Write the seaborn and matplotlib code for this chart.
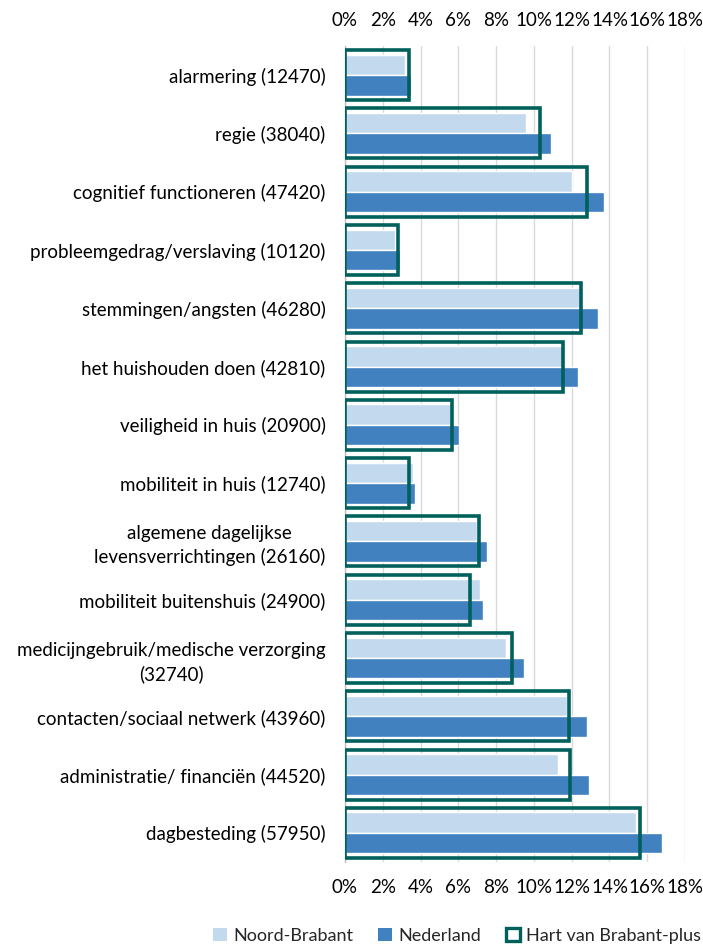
import matplotlib
matplotlib.use("Agg")
import matplotlib.pyplot as plt
import seaborn as sns
import pandas as pd
from matplotlib.patches import Patch
from matplotlib.ticker import FuncFormatter

categories = [
    "alarmering (12470)",
    "regie (38040)",
    "cognitief functioneren (47420)",
    "probleemgedrag/verslaving (10120)",
    "stemmingen/angsten (46280)",
    "het huishouden doen (42810)",
    "veiligheid in huis (20900)",
    "mobiliteit in huis (12740)",
    "algemene dagelijkse\nlevensverrichtingen (26160)",
    "mobiliteit buitenshuis (24900)",
    "medicijngebruik/medische verzorging\n(32740)",
    "contacten/sociaal netwerk (43960)",
    "administratie/ financiën (44520)",
    "dagbesteding (57950)",
]
noord_brabant = [3.2, 9.6, 12.0, 2.65, 12.45, 11.5, 5.6, 3.6, 7.0, 7.15, 8.5, 11.75, 11.3, 15.4]
nederland = [3.5, 10.9, 13.7, 2.9, 13.4, 12.35, 6.05, 3.7, 7.5, 7.3, 9.45, 12.8, 12.9, 16.8]
hart_van_brabant = [3.4, 10.3, 12.8, 2.8, 12.5, 11.55, 5.65, 3.4, 7.07, 6.6, 8.85, 11.85, 11.9, 15.6]
series_names = ["Noord-Brabant", "Nederland", "Hart van Brabant-plus"]
x_ticks = list(range(0, 19, 2))

c_nb = "#C3D9EE"
c_nl = "#4181BF"
c_hvb = "#00605C"

sns.set_theme(style="white")
plt.rcParams["font.family"] = ["Lato", "DejaVu Sans"]

df = pd.DataFrame({
    "cat": categories * 2,
    "val": noord_brabant + nederland,
    "serie": [series_names[0]] * len(categories) + [series_names[1]] * len(categories),
})
df_h = pd.DataFrame({"cat": categories, "val": hart_van_brabant})

fig = plt.figure(figsize=(7.03, 9.46), dpi=100)
ax = fig.add_axes([345 / 703, 1 - 862 / 946, (685 - 345) / 703, (862 - 46) / 946])

sns.barplot(data=df, x="val", y="cat", hue="serie", order=categories,
            hue_order=series_names[:2], palette=[c_nb, c_nl], width=0.7,
            saturation=1, orient="h", errorbar=None, edgecolor="white",
            linewidth=1, legend=False, ax=ax, zorder=2)
sns.barplot(data=df_h, x="val", y="cat", order=categories, width=0.86,
            orient="h", errorbar=None, fill=False, color=c_hvb, saturation=1,
            linewidth=2.6, ax=ax, zorder=3)
for p in ax.patches[-len(categories):]:
    p.set_edgecolor(c_hvb)
    p.set_facecolor("none")

ax.set_xlim(0, 18)
ax.set_ylim(len(categories) - 0.5, -0.5)
ax.set_xticks(x_ticks)
ax.xaxis.set_major_formatter(FuncFormatter(lambda v, _: f"{v:.0f}%"))
ax.grid(axis="x", color="#D9D9D9", linewidth=1, zorder=0)
ax.set_axisbelow(True)
ax.set_xlabel("")
ax.set_ylabel("")
for s in ["top", "right", "bottom"]:
    ax.spines[s].set_visible(False)
ax.spines["left"].set_color("#BFBFBF")
ax.spines["left"].set_linewidth(1)
ax.tick_params(axis="x", top=True, labeltop=True, bottom=True, labelbottom=True,
               length=0, pad=12, labelsize=13.5, colors="#000000")
ax.tick_params(axis="y", length=0, pad=14, labelsize=13.5, colors="#000000")
for lab in ax.get_yticklabels():
    lab.set_multialignment("center")
    lab.set_linespacing(1.4)

handles = [Patch(facecolor=c_nb, edgecolor="none"),
           Patch(facecolor=c_nl, edgecolor="none"),
           Patch(facecolor="white", edgecolor=c_hvb, linewidth=2.4)]
fig.legend(handles, series_names, loc="center", bbox_to_anchor=(457 / 703, 1 - 936 / 946),
           ncol=3, frameon=False, fontsize=13, handlelength=0.75, handleheight=0.75,
           handletextpad=0.35, columnspacing=1.4)

fig.savefig("out.png", dpi=100)
